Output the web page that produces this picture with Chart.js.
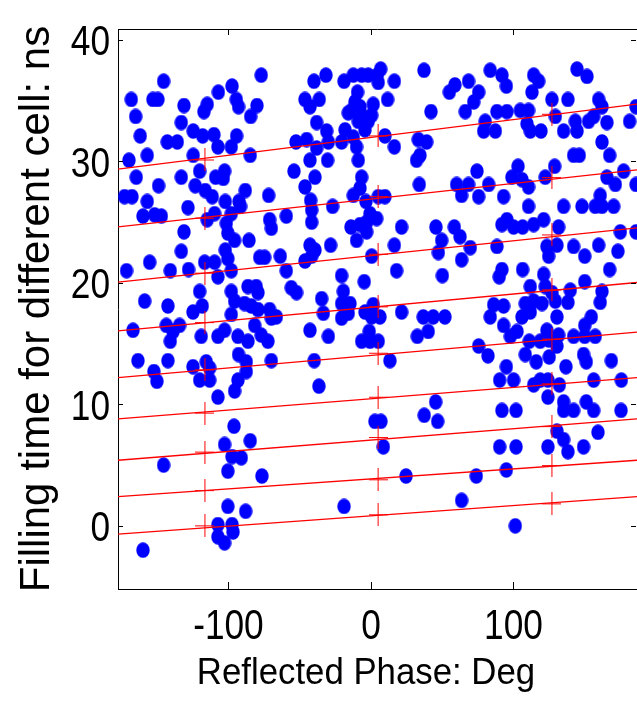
<!DOCTYPE html>
<html>
<head>
<meta charset="utf-8">
<script src="https://cdn.jsdelivr.net/npm/chart.js@4.4.0/dist/chart.umd.min.js"></script>
<style>
  html, body { margin: 0; padding: 0; background: #fff; overflow: hidden; }
  canvas { display: block; }
</style>
</head>
<body>
<canvas id="chart" width="637" height="702"></canvas>
<script>
// reflected phase (deg) and filling time (ns) of every cell
const phaseDeg = [
  -145.5, -77, -168.2, -153, -149.5, -131.2, -107.1, -97.5, -114.9, -117.2, -94.5, -92.9, -80, -84.4, -165.1, -133.1,
  -124.7, -118.1, -110.2, -107.4, -98, -94.3, -161.9, -142.9, -135.9, -157, -169.8, -124.7, -84.7, -164.7, -149, -133.1,
  -120.2, -109, -102.7, -103.6, -123.3, -116.3, -111.4, -88.2, -92.6, -91.5, -172.9, -167.7, -157, -71.8, -102.2, -128.4,
  -160, -151.8, -147.1, -109.7, -98, -114.9, -101.5, -100.4, -95.7, -71.1, -69.9, -59.4, -131.2, -85.6, -133.1, -102.2,
  -100.4, -155.3, -171.5, -140.8, -128, -116.7, -109.7, -107.4, -98, -78.1, -74.6, -63.6, -59.4, -120.2, -98, -86.3,
  -80.5, -79.3, -55.9,
  37.2, -40, -31.6, -18.9, -12.4, -6.5, -1.9, 4.4, 6.8, 5.1, 16.4, 55, 58.9, -46.3, -42.8, -36.3, -9.4, -11.2, -13.6,
  -15.9, -7.7, -5.4, -8.9, -1.9, 1.6, 0.5, 11.7, 42.1, -38.1, -31.1, -29.9, -18.2, -20.6, -12.4, -10.1, -4.2, -52.6,
  -45.1, -38.1, 9.8, 16.4, 33.2, 39.1, 32, 34.4, -42.8, -30.4, -54, -8.9, -39.3, -46.3, -42.3, -41.6, -6.5, -12.4, -7.7,
  -26.9, -3.5, -0.7, 4, -3, 5.1, 9.8, 33.9, 60.1, 63.6, -41.6, -14, -7.7, -3, -10.1, 21.5, 45.6, 49.6, 58.5, 62.5,
  -42.8, -39.3, -46.3, -41.6, -28.3, 0.5, 16.4, 47.3, 63.6, -20.6, -4.7, 18, 50.1, -52.2, -19.4, -34.6,
  83.7, 91.9, 95, 114.2, 117.7, 113, 144.6, 151.6, 68.5, 75.6, 72.1, 66.2, 88.4, 95.4, 104.8, 110.6, 127, 138.2, 129.4,
  159.8, 162.1, 80.2, 79.1, 87.3, 109.5, 111.8, 119.3, 135.2, 143.4, 144.6, 152.7, 156.3, 165.6, 181.5, 162.1, 167.5,
  142.2, 146.2, 74.4, 103.2, 98.9, 128.9, 122.3, 82.6, 68.5, 75.6, 93.1, 110.6, 106, 165.6, 171.5, 160.9, 177.3, 110.6,
  135.2, 148.1, 157.4, 162.1, 170.3, 95.4, 91.9, 100.1, 106.4, 114.2, 121.2, 131.7, 175, 69.7, 88.4, 123.5, 130.5,
  124.7, 142.2, 150, 159.8, 173.3, 91.9, 90, 106.4, 121.2, 122.3, 111.8, 150, 167.5, 127, 139.9, 162.1, 186, 186, 186,
  -158.8, -142.5, -124.9, -118.4, -95.7, -88.7, -84, -79.3, -71.1, -66.4, -69.9, -98, -167, -143.6, -134.3, -138.9,
  -140.8, -119.1, -107.4, -102.7, -93.3, -86.3, -81.6, -77, -72.3, -163.5, -142.5, -152.3, -150.2, -124.9, -115.6,
  -113.2, -120.2, -113.2, -92.9, -87.5, -87.5, -93.3, -95.7, -69.9, -107.4, -96.1, -84.7, -102.7, -97.5, -91, -145.5,
  -100.4, -76.5, -100.4, -87.9, -107.4, -97.5, -96.8, -107.4, -102.7, -160,
  -33.4, -20.6, -14.7, -20.6, -15.9, -4.2, 1.6, 0.5, 6.3, 21.5, 36.7, 43.7, 51.9, 40.2, 32.5, -42.8, -29.9, -1.2, -6.5,
  -0.7, 5.1, -39.8, 13.3, -36.5, 45.4, 37.4, 46.8, 2.8, 7, 8.7, 24.6, -18.9, 63.6,
  86.1, 93.1, 83.7, 108.3, 114.2, 120, 111.8, 106, 129.4, 138.2, 160.9, 130.5, 154.6, 150, 93.1, 102.5, 97.8, 123.5,
  118.8, 124.7, 131.7, 130.5, 142.2, 150, 157.4, 111.1, 108.3, 116, 125.1, 75.6, 82.1, 136.8, 149.2, 151.1, 168.7, 95,
  90.3, 100.1, 114.2, 118.8, 124.2, 124.2, 132.2, 135.2, 142.2, 135.2, 151.1, 156.3, 156.3, 175.7, 175.5, 91.9, 101.8,
  130.5, 135.2, 138.2, 124.2, 159.3, 149.2, 90.3, 101.8, 95, 73.9, 101.3
];
const fillTime = [
  36.6, 37.1, 35.1, 35.1, 35.1, 34.6, 35.7, 36.2, 34.7, 34.1, 35.1, 34.5, 34.6, 33.7, 33.7, 33.2,
  32.5, 32.1, 32.2, 31.2, 31.2, 32.1, 32.1, 31.6, 31.6, 30.5, 30.1, 30.5, 30.5, 28.7, 28.0, 28.7,
  29.2, 28.7, 29.2, 28.6, 28.0, 27.6, 27.1, 27.6, 26.7, 26.3, 27.1, 27.1, 26.7, 27.2, 26.7, 26.2,
  25.5, 25.6, 25.5, 25.7, 25.7, 25.2, 24.9, 24.1, 23.5, 25.2, 24.5, 25.5, 24.2, 23.5, 22.6, 22.7,
  22.0, 21.7, 21.0, 21.0, 21.1, 21.7, 21.7, 20.5, 21.0, 22.1, 22.1, 22.2, 21.0, 19.3, 19.3, 19.7,
  19.7, 19.2, 19.6,
  37.5, 36.6, 37.1, 36.6, 37.1, 37.1, 37.1, 37.1, 37.6, 36.5, 36.6, 35.7, 36.3, 35.1, 34.5, 35.1, 35.7, 34.9, 34.2,
  34.0, 34.5, 33.7, 33.3, 33.3, 34.7, 33.8, 35.1, 34.1, 33.2, 32.5, 31.6, 32.6, 31.6, 32.0, 31.2, 32.6, 31.6,
  31.8, 31.1, 32.1, 31.2, 31.8, 31.6, 30.1, 30.5, 30.1, 30.1, 29.2, 30.1, 28.7, 27.9, 26.8, 26.0, 28.7, 27.2, 27.8,
  26.3, 26.7, 25.7, 25.3, 25.0, 27.1, 27.1, 28.1, 28.1, 27.2, 25.0, 24.6, 24.8, 24.2, 23.5, 24.6, 24.6, 23.5, 24.6, 23.8,
  23.1, 22.7, 21.8, 22.2, 23.1, 22.2, 23.1, 22.5, 21.9, 20.6, 20.1, 21.0, 20.6, 19.2, 19.3, 18.7,
  37.5, 37.1, 36.2, 37.1, 36.6, 35.7, 37.6, 37.0, 36.6, 35.7, 34.9, 34.1, 34.1, 34.1, 34.2, 34.2, 35.1, 35.1, 33.7,
  35.1, 34.5, 33.3, 32.5, 32.5, 33.1, 32.5, 32.5, 32.5, 33.3, 32.5, 33.3, 33.7, 33.2, 33.3, 31.6, 30.5,
  30.5, 30.5, 29.2, 29.6, 28.7, 29.6, 28.7, 28.1, 28.1, 27.1, 27.1, 27.9, 28.5, 28.7, 28.1, 27.2, 29.2, 26.3,
  26.3, 26.3, 26.3, 26.3, 26.3, 25.2, 24.8, 24.6, 24.6, 24.8, 25.2, 24.6, 24.2, 22.9, 23.0, 23.0, 23.1,
  22.2, 23.0, 22.2, 23.1, 22.6, 21.1, 20.5, 21.1, 20.7, 19.7, 19.7, 20.1, 21.1, 19.2, 19.4, 19.3, 34.5, 28.1, 24.2,
  18.5, 18.1, 17.6, 18.1, 18.5, 18.3, 18.1, 17.8, 17.8, 17.2, 17.1, 17.4, 16.1, 16.5, 16.5, 16.0,
  15.2, 15.6, 15.6, 16.1, 15.6, 15.2, 16.5, 15.7, 15.2, 13.6, 13.6, 12.7, 11.9, 13.1, 13.5,
  13.0, 12.0, 12.0, 14.1, 13.5, 12.7, 12.0, 11.1, 13.6, 10.6, 8.2, 7.0, 6.7, 5.7, 5.6, 5.0,
  4.5, 4.1, 1.6, 1.2, 0.1, 0.1, -0.5, -0.9, -1.4, -2.0,
  17.5, 18.3, 18.3, 17.1, 17.5, 17.6, 18.2, 17.2, 17.2, 17.6, 17.2, 17.2, 17.2, 16.0, 15.6, 16.1, 15.6, 16.0, 15.2,
  15.2, 15.2, 13.6, 13.6, 11.5, 10.2, 9.1, 8.6, 8.6, 8.6, 6.5, 4.1, 1.6, 2.1,
  18.2, 18.1, 17.2, 18.3, 18.5, 18.3, 17.6, 17.2, 18.5, 18.4, 18.4, 17.2, 17.2, 16.5, 16.5, 16.0, 15.6, 16.1,
  15.2, 15.3, 15.7, 14.8, 15.6, 15.6, 15.6, 15.2, 14.1, 13.5, 13.9, 14.8, 14.0, 13.1, 14.1, 13.5, 13.6, 13.1,
  12.0, 12.0, 11.6, 12.0, 12.0, 10.6, 11.6, 10.2, 9.5, 9.5, 10.2, 9.5, 12.0, 12.0, 9.5, 9.5, 9.5,
  7.8, 7.1, 6.1, 6.5, 7.7, 6.5, 6.5, 6.5, 4.6, 4.1, 0.0
];

// red reference lines: value at the left and right edge of the axes
const lineEndPhase = [-177.5, 186.7];
const lineStartTime = [29.36, 24.61, 20.06, 16.05, 12.2, 8.81, 5.4, 2.41, -0.68];
const lineEndTime = [34.71, 29.3, 24.53, 20.03, 15.94, 12.2, 8.81, 5.4, 2.41];

// red + markers on each line
const markPhase = [-116.5, 5, 127];
const markTime = [
  [30.12, 32.1, 33.88],
  [25.33, 27.1, 28.67],
  [20.8, 22.36, 23.95],
  [16.73, 18.03, 19.42],
  [12.84, 14.21, 15.37],
  [9.28, 10.59, 11.69],
  [6.07, 7.27, 8.17],
  [2.9, 3.79, 4.96],
  [0, 0.91, 1.81]
];

const xTicks = [-100, 0, 100];
const yTicks = [0, 10, 20, 30, 40];

const fontFamily = '"Liberation Sans", Arial, sans-serif';

function makeDot() {
  const c = document.createElement('canvas');
  c.width = 14; c.height = 16;
  const g = c.getContext('2d');
  g.fillStyle = '#0000ff';
  g.beginPath();
  g.ellipse(7, 8, 6.7, 7.8, 0, 0, Math.PI * 2);
  g.fill();
  return c;
}

function makePlus() {
  const c = document.createElement('canvas');
  c.width = 19; c.height = 23;
  const g = c.getContext('2d');
  g.strokeStyle = '#ff0000';
  g.lineWidth = 1;
  g.beginPath();
  g.moveTo(9.5, 0); g.lineTo(9.5, 23);
  g.moveTo(0, 11.5); g.lineTo(19, 11.5);
  g.stroke();
  return c;
}

const dots = phaseDeg.map((p, i) => ({ x: p, y: fillTime[i] }));

const datasets = [{
  data: dots,
  pointStyle: makeDot(),
  pointRadius: 7,
  order: 2
}];

lineStartTime.forEach((t0, i) => {
  datasets.push({
    data: [{ x: lineEndPhase[0], y: t0 }, { x: lineEndPhase[1], y: lineEndTime[i] }],
    showLine: true,
    borderColor: '#ff0000',
    borderWidth: 1.3,
    pointRadius: 0,
    order: 1
  });
});

const plus = makePlus();
const marks = [];
markTime.forEach(row => row.forEach((t, j) => marks.push({ x: markPhase[j], y: t })));
datasets.push({ data: marks, pointStyle: plus, pointRadius: 10, order: 0 });

// narrow text like the matlab export
function narrowText(ctx, text, x, y, align, squeeze) {
  ctx.save();
  ctx.translate(x, y);
  ctx.scale(squeeze, 1);
  ctx.textAlign = align;
  ctx.textBaseline = 'alphabetic';
  ctx.fillText(text, 0, 0);
  ctx.restore();
}

// inward tick marks, tick labels, top border and the x axis title
const frame = {
  id: 'frame',
  afterDraw(chart) {
    const { ctx, chartArea: a, scales } = chart;
    ctx.save();
    ctx.strokeStyle = '#000';
    ctx.lineWidth = 1;
    ctx.beginPath();
    ctx.moveTo(a.left, a.top + 0.5);
    ctx.lineTo(a.right, a.top + 0.5);
    xTicks.forEach(v => {
      const px = Math.round(scales.x.getPixelForValue(v)) + 0.5;
      ctx.moveTo(px, a.bottom); ctx.lineTo(px, a.bottom - 7);
      ctx.moveTo(px, a.top); ctx.lineTo(px, a.top + 6);
    });
    yTicks.forEach(v => {
      const py = Math.round(scales.y.getPixelForValue(v)) + 0.5;
      ctx.moveTo(a.left, py); ctx.lineTo(a.left + 5, py);
      ctx.moveTo(a.right - 1, py); ctx.lineTo(a.right - 6, py);
    });
    ctx.stroke();

    ctx.fillStyle = '#000';
    ctx.font = '43px ' + fontFamily;
    xTicks.forEach(v => {
      narrowText(ctx, String(v), scales.x.getPixelForValue(v), a.bottom + 50, 'center', 0.82);
    });
    yTicks.forEach(v => {
      narrowText(ctx, String(v), a.left - 8, scales.y.getPixelForValue(v) + 15.5, 'right', 0.82);
    });

    ctx.font = '37px ' + fontFamily;
    narrowText(ctx, 'Reflected Phase: Deg', 366, 684, 'center', 0.94);
    ctx.restore();
  }
};

new Chart(document.getElementById('chart'), {
  type: 'scatter',
  data: { datasets },
  options: {
    responsive: false,
    animation: false,
    devicePixelRatio: 1,
    layout: { autoPadding: false, padding: { top: 29, right: 0, bottom: 0, left: 0 } },
    plugins: { legend: { display: false }, tooltip: { enabled: false } },
    scales: {
      x: {
        type: 'linear',
        min: -177.5,
        max: 186.7,
        grid: { display: false, drawTicks: false },
        border: { display: true, color: '#000', width: 1 },
        ticks: { display: false },
        afterBuildTicks: s => { s.ticks = xTicks.map(v => ({ value: v })); },
        afterFit: s => { s.height = 113; s.paddingLeft = 0; s.paddingRight = 0; }
      },
      y: {
        type: 'linear',
        min: -5.2,
        max: 40.9,
        grid: { display: false, drawTicks: false },
        border: { display: true, color: '#000', width: 1 },
        ticks: { display: false },
        afterBuildTicks: s => { s.ticks = yTicks.map(v => ({ value: v })); },
        afterFit: s => { s.width = 118; s.paddingTop = 0; s.paddingBottom = 0; },
        title: {
          display: true,
          text: 'Filling time for different cell: ns',
          color: '#000',
          font: { family: fontFamily, size: 42 },
          padding: { top: 12, bottom: 0 }
        }
      }
    }
  },
  plugins: [frame]
});
</script>
</body>
</html>
